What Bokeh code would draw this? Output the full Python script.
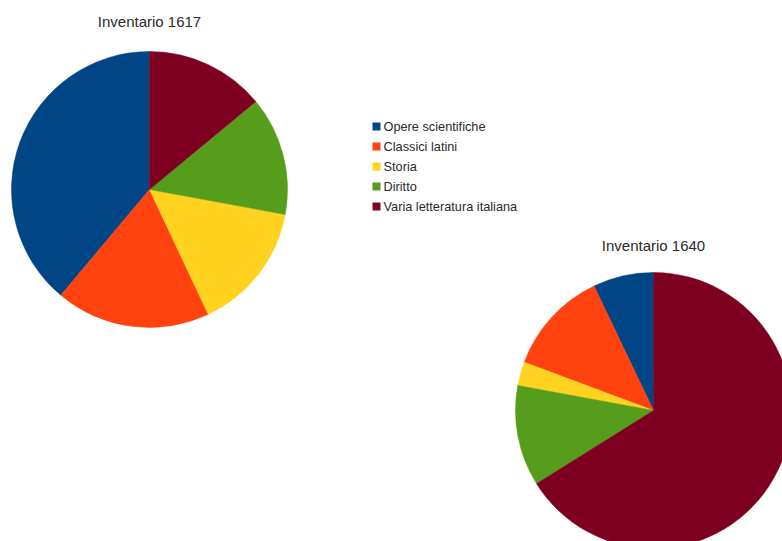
import math
from bokeh.plotting import figure
from bokeh.models import ColumnDataSource, Range1d
from bokeh.core.properties import value
from bokeh.embed import file_html
from bokeh.resources import INLINE

categories = ["Opere scientifiche", "Classici latini", "Storia", "Diritto", "Varia letteratura italiana"]
colors = ["#004586", "#ff420e", "#ffd320", "#579d1c", "#7e0021"]
values_1617 = [38.9, 18.1, 15.1, 13.9, 14.0]
values_1640 = [7.1, 12.2, 2.8, 11.8, 66.1]
titles = ["Inventario 1617", "Inventario 1640"]

W, H = 782, 541
FONT = "Liberation Sans"

p = figure(width=W, height=H, output_backend="svg", toolbar_location=None,
           x_range=Range1d(0, W), y_range=Range1d(0, H), min_border=0)
p.axis.visible = False
p.grid.visible = False
p.outline_line_color = None
p.background_fill_color = "white"
p.border_fill_color = "white"


def px(x):
    return x


def py(y):
    return H - y


def add_pie(vals, cx, cy, r):
    total = sum(vals)
    starts, ends = [], []
    a = math.pi / 2
    for v in vals:
        starts.append(a)
        a += 2 * math.pi * v / total
        ends.append(a)
    src = ColumnDataSource(dict(x=[px(cx)] * len(vals), y=[py(cy)] * len(vals),
                                start=starts, end=ends, color=colors))
    p.wedge(x="x", y="y", radius=r, start_angle="start", end_angle="end",
            fill_color="color", line_color="color", line_width=0.5,
            direction="anticlock", source=src)


add_pie(values_1617, 149, 189, 138)
add_pie(values_1640, 653, 410, 138)

p.text(x=[px(149), px(653)], y=[py(21), py(245)], text=titles,
       text_font=value(FONT), text_font_size="15px", text_color="#2a2a2a",
       text_align="center", text_baseline="middle")

ys = [126 + 20 * i for i in range(len(categories))]
p.rect(x=[px(376)] * len(categories), y=[py(y) for y in ys], width=8, height=8,
       fill_color=colors, line_color=None)
p.text(x=[px(383)] * len(categories), y=[py(y) for y in ys], text=categories,
       text_font=value(FONT), text_font_size="12.75px", text_color="#2a2a2a",
       text_align="left", text_baseline="middle")

open("out.html", "w").write(file_html(p, INLINE))
